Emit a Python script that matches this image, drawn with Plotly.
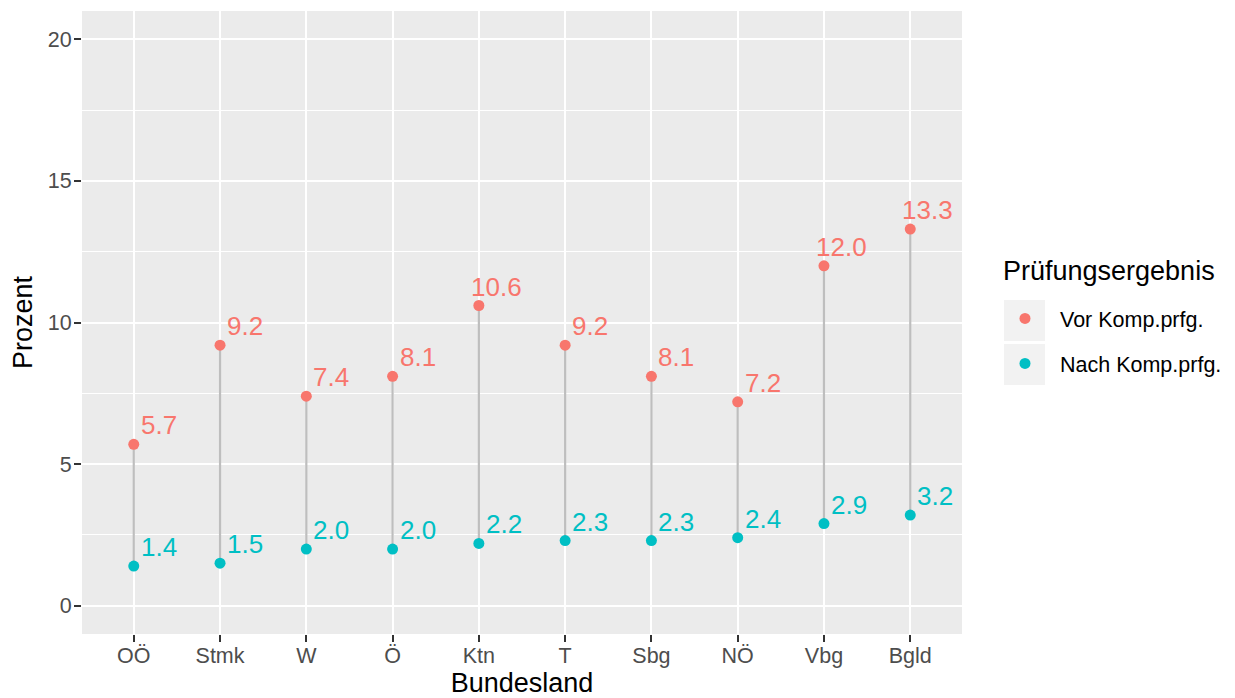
import plotly.graph_objects as go

# ---- data ----
bundeslaender = ["OÖ", "Stmk", "W", "Ö", "Ktn", "T", "Sbg", "NÖ", "Vbg", "Bgld"]
vor_komp = [5.7, 9.2, 7.4, 8.1, 10.6, 9.2, 8.1, 7.2, 12.0, 13.3]
nach_komp = [1.4, 1.5, 2.0, 2.0, 2.2, 2.3, 2.3, 2.4, 2.9, 3.2]
series_names = ["Vor Komp.prfg.", "Nach Komp.prfg."]
legend_title = "Prüfungsergebnis"
y_ticks = [0, 5, 10, 15, 20]

COL_VOR = "#F8766D"
COL_NACH = "#00BFC4"
FONT = "Liberation Sans, Arial, Helvetica, sans-serif"

# page body has an 8px margin -> work in screen pixels and subtract it
OFF = 8
W, H = 1235, 698
# plot panel in screen pixels
SX0, SX1, SY0, SY1 = 82, 962, 11, 634
L, T = SX0 - OFF, SY0 - OFF
R, B = W - (SX1 - OFF), H - (SY1 - OFF)
PW, PH = SX1 - SX0, SY1 - SY0

def px_x(s):
    return (s - SX0) / PW

def px_y(s):
    return (SY1 - s) / PH

fig = go.Figure()

# segments
seg_x, seg_y = [], []
for c, v, n in zip(bundeslaender, vor_komp, nach_komp):
    seg_x += [c, c, None]
    seg_y += [n, v, None]
fig.add_trace(go.Scatter(x=seg_x, y=seg_y, mode="lines",
                         line=dict(color="#BEBEBE", width=2.2),
                         showlegend=False, hoverinfo="skip"))

fig.add_trace(go.Scatter(x=bundeslaender, y=vor_komp, mode="markers",
                         name=series_names[0], legendgroup="a",
                         marker=dict(color=COL_VOR, size=11)))
fig.add_trace(go.Scatter(x=bundeslaender, y=nach_komp, mode="markers",
                         name=series_names[1], legendgroup="b",
                         marker=dict(color=COL_NACH, size=11)))

annotations = []
for vals, col in ((vor_komp, COL_VOR), (nach_komp, COL_NACH)):
    for c, v in zip(bundeslaender, vals):
        annotations.append(dict(x=c, y=v, text=f"{v:.1f}", showarrow=False,
                                xanchor="right", yanchor="middle",
                                xshift=45, yshift=19,
                                font=dict(family=FONT, size=26, color=col)))

# legend title as annotation
annotations.append(dict(xref="paper", yref="paper", x=px_x(1001), y=px_y(271),
                        xanchor="left", yanchor="middle", showarrow=False,
                        text=legend_title,
                        font=dict(family=FONT, size=27, color="black")))

shapes = []
for top in (300, 344):
    shapes.append(dict(type="rect", xref="paper", yref="paper",
                       x0=px_x(1004), x1=px_x(1045),
                       y0=px_y(top + 41), y1=px_y(top),
                       fillcolor="#F2F2F2", line=dict(width=0), layer="below"))

fig.update_layout(
    width=W, height=H,
    margin=dict(l=L, r=R, t=T, b=B, autoexpand=False),
    paper_bgcolor="white",
    plot_bgcolor="#EBEBEB",
    font=dict(family=FONT, color="black"),
    annotations=annotations,
    shapes=shapes,
    legend=dict(
        x=px_x(990), y=px_y(298), xanchor="left", yanchor="top",
        font=dict(size=21.5, color="black"),
        bgcolor="rgba(0,0,0,0)",
        tracegroupgap=14,
        itemwidth=60,
    ),
    xaxis=dict(
        type="category",
        automargin=False,
        range=[-0.6, len(bundeslaender) - 0.4],
        showgrid=True, gridcolor="white", gridwidth=2,
        ticks="outside", ticklen=7, tickwidth=2, tickcolor="#333333",
        ticklabelstandoff=-5,
        tickfont=dict(size=21.5, color="#4D4D4D"),
        title=dict(text="Bundesland", font=dict(size=27, color="black"), standoff=4),
        zeroline=False, showline=False,
    ),
    yaxis=dict(
        automargin=False,
        range=[-1, 21],
        tickvals=y_ticks,
        showgrid=True, gridcolor="white", gridwidth=2,
        minor=dict(dtick=2.5, tick0=0, showgrid=True, gridcolor="white", gridwidth=1),
        ticks="outside", ticklen=7, tickwidth=2, tickcolor="#333333",
        ticklabelstandoff=-2,
        tickfont=dict(size=21.5, color="#4D4D4D"),
        title=dict(text="Prozent", font=dict(size=27, color="black"), standoff=8),
        zeroline=False, showline=False,
    ),
)

fig.write_html("out.html")
